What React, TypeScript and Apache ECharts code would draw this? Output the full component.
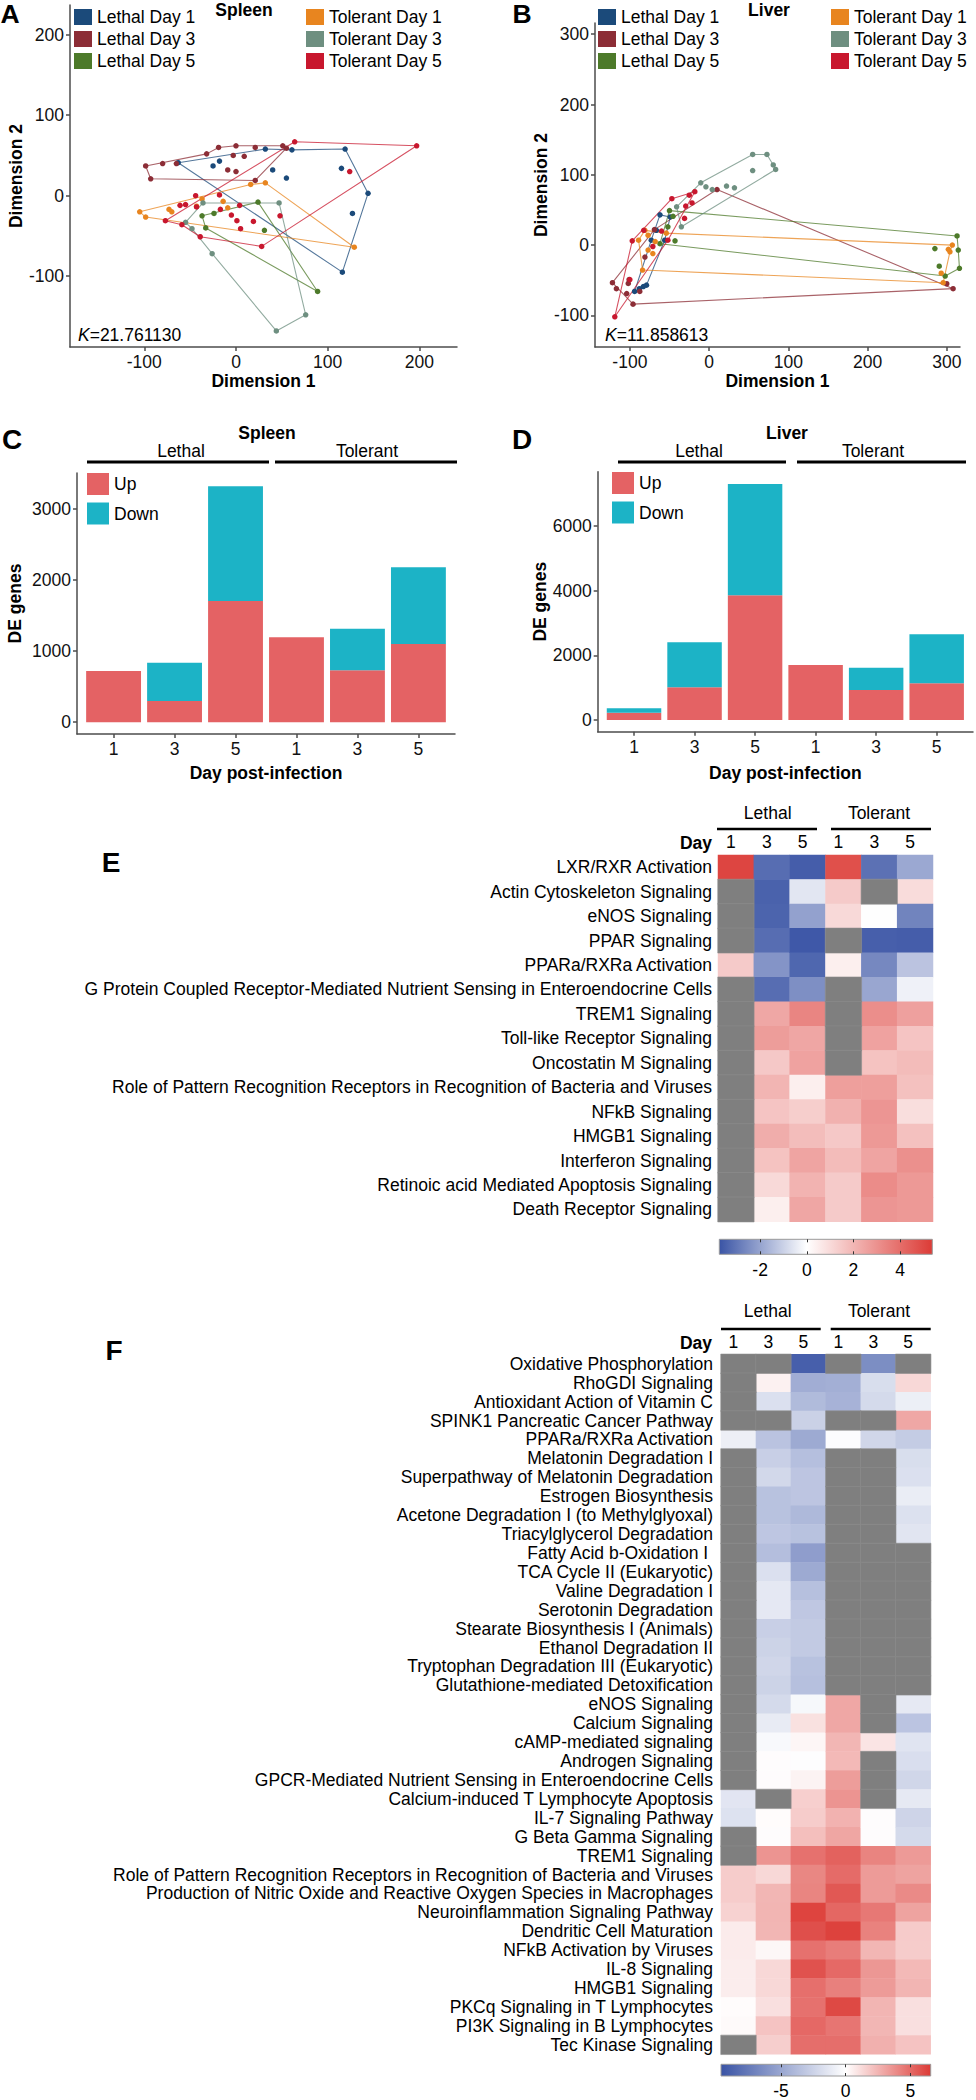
import React, { useEffect, useRef } from "react";
import * as echarts from "echarts";

const FONT = "'Liberation Sans', Arial, Helvetica, sans-serif";

// ---------- Panels A / B : MDS points ----------
const groupNames = ["Lethal Day 1", "Lethal Day 3", "Lethal Day 5", "Tolerant Day 1", "Tolerant Day 3", "Tolerant Day 5"];
const groupColors = ["#1b4a7a", "#8c2d36", "#4d7a2a", "#e8851f", "#6e8f80", "#c8172e"];

const spleenLethalDay1 = [[-63, 41], [-25, 37], [-18, 43], [32, 58], [61, 57], [119, 58], [115, 34], [40, 32], [55, 22], [144, 3], [127, -22], [116, -95]];
const spleenLethalDay3 = [[-98.5, 37], [-93, 21], [-80, 40], [-65, 40], [-32, 52], [-19, 60], [0, 62], [21, 60], [51, 62], [55, 59], [21, 19], [-3, 50], [9, 49], [-9, 32], [0, 30]];
const spleenLethalDay5 = [[-37, -25], [24, -8], [89, -119], [-33, -40], [31, -43], [-24, -22]];
const spleenTolerantDay1 = [[-105, -20], [-98.5, -26.5], [16, 14], [32, 16], [129, -64], [-37, -4], [-14, -7], [-9, -15], [-43, -13], [-73, -17], [-70, -20]];
const spleenTolerantDay3 = [[-36, -9], [47, -9], [76, -148], [44, -168], [-26, -72], [-48, -41], [-55, -33]];
const spleenTolerantDay5 = [[-77, -31], [-61, -12], [-55, -11], [-44, 0], [-43, -14], [-18, 1], [-17, -17], [-5, -24], [1, -31], [5, -41], [19, -32], [48, -25], [4, -12], [64, 67], [197, 62], [124, 30], [28, -63], [-39, -51], [-59, -36]];
const spleenHulls = [
  [0, 3, 4, 5, 9, 11],
  [0, 4, 5, 6, 8, 9, 10, 1],
  [0, 1, 2, 3],
  [0, 2, 3, 4, 1],
  [6, 0, 1, 2, 3, 4, 5],
  [0, 13, 14, 16, 17, 18],
];

const liverLethalDay1 = [[-62, 43], [-49, 40], [-56, 7], [-79, -57], [-94, -66], [-66.5, 21], [-73, 7], [-83, -59], [-88, -62]];
const liverLethalDay3 = [[-122, -53.5], [-117, -62], [-102, -54.5], [-101, -49], [-104, -69], [-96, -84], [-87.5, -66], [-81, -17], [-69, 22], [10, 79], [308, -62], [300, -55]];
const liverLethalDay5 = [[-50, 49], [-45.5, 41], [-52, 26], [-43, 6], [-62, 2], [313, 13], [314.5, -7], [316, -33], [298, -44], [285, -5], [290.5, -30]];
const liverTolerantDay1 = [[-89, 7], [-81, 21], [-77, 14], [-77, -7], [-71, -12], [-84, -35.5], [-68, 5], [307, 0], [304, -9.5], [302, -6], [293, -40], [295.5, -53.5], [-54, 17]];
const liverTolerantDay3 = [[-41, 54.5], [-10.5, 88.6], [-4, 83], [4, 79], [22, 84], [32, 81.5], [55, 129], [73, 129], [81, 114], [84, 107.6], [55, 106], [-35, 26]];
const liverTolerantDay5 = [[-119, -102], [-97, 6], [-82.5, 21], [-47, 66], [-25, 71], [-18, 76], [-21.5, 60], [-29.5, 55.5], [-31, 38], [-52, 7], [-60, 20], [-71, -2], [-100, -49]];
const liverHulls = [
  [0, 1, 2, 3, 4, 6],
  [0, 5, 10, 9, 8],
  [0, 5, 6, 7, 8, 4],
  [0, 1, 12, 7, 8, 11, 5],
  [0, 1, 6, 7, 8, 9, 11],
  [0, 1, 3, 5, 9],
];

// ---------- Panels C / D : DE genes ----------
const dayLabels = ["1", "3", "5", "1", "3", "5"];
const spleenUp = [720, 299, 1701, 1192, 729, 1098];
const spleenDown = [0, 537, 1612, 0, 584, 1080];
const liverUp = [227, 1012, 3862, 1704, 929, 1136];
const liverDown = [134, 1394, 3448, 0, 692, 1518];

// ---------- Panel E ----------
const columnKeys = ["Lethal 1", "Lethal 3", "Lethal 5", "Tolerant 1", "Tolerant 3", "Tolerant 5"];
const ePathways = [
  "LXR/RXR Activation", "Actin Cytoskeleton Signaling", "eNOS Signaling", "PPAR Signaling", "PPARa/RXRa Activation",
  "G Protein Coupled Receptor-Mediated Nutrient Sensing in Enteroendocrine Cells", "TREM1 Signaling", "Toll-like Receptor Signaling",
  "Oncostatin M Signaling", "Role of Pattern Recognition Receptors in Recognition of Bacteria and Viruses", "NFkB Signaling",
  "HMGB1 Signaling", "Interferon Signaling", "Retinoic acid Mediated Apoptosis Signaling", "Death Receptor Signaling",
];
const eLethalDay1 = [5.1, null, null, null, 1.45, null, null, null, null, null, null, null, null, null, null];
const eLethalDay3 = [-3.2, -3.45, -3.4, -3.2, -2.35, -3.2, 2.4, 2.7, 1.5, 2.05, 1.6, 2.25, 1.65, 1.05, 0.45];
const eLethalDay5 = [-3.55, -0.55, -2.05, -3.65, -3.35, -2.45, 3.35, 2.45, 2.55, 0.45, 1.35, 1.8, 2.5, 2.1, 2.45];
const eTolerantDay1 = [4.8, 1.45, 1.05, null, 0.45, null, null, null, null, 2.65, 2.15, 1.5, 1.85, 1.45, 1.45];
const eTolerantDay3 = [-3.1, null, 0, -3.5, -2.6, -1.95, 3.1, 2.55, 1.65, 2.65, 2.9, 2.8, 2.5, 3.15, 2.9];
const eTolerantDay5 = [-1.9, 0.95, -2.7, -3.55, -1.3, -0.3, 2.6, 1.6, 1.85, 1.7, 0.9, 1.7, 3.05, 2.8, 2.8];
const eScaleMin = -3.75;
const eScaleMax = 5.38;
const eScaleTicks = [-2, 0, 2, 4];

// ---------- Panel F ----------
const fPathways = [
  "Oxidative Phosphorylation", "RhoGDI Signaling", "Antioxidant Action of Vitamin C", "SPINK1 Pancreatic Cancer Pathway",
  "PPARa/RXRa Activation", "Melatonin Degradation I", "Superpathway of Melatonin Degradation", "Estrogen Biosynthesis",
  "Acetone Degradation I (to Methylglyoxal)", "Triacylglycerol Degradation", "Fatty Acid b-Oxidation I ", "TCA Cycle II (Eukaryotic)",
  "Valine Degradation I", "Serotonin Degradation", "Stearate Biosynthesis I (Animals)", "Ethanol Degradation II",
  "Tryptophan Degradation III (Eukaryotic)", "Glutathione-mediated Detoxification", "eNOS Signaling", "Calcium Signaling",
  "cAMP-mediated signaling", "Androgen Signaling", "GPCR-Mediated Nutrient Sensing in Enteroendocrine Cells",
  "Calcium-induced T Lymphocyte Apoptosis", "IL-7 Signaling Pathway", "G Beta Gamma Signaling", "TREM1 Signaling",
  "Role of Pattern Recognition Receptors in Recognition of Bacteria and Viruses",
  "Production of Nitric Oxide and Reactive Oxygen Species in Macrophages", "Neuroinflammation Signaling Pathway",
  "Dendritic Cell Maturation", "NFkB Activation by Viruses", "IL-8 Signaling", "HMGB1 Signaling",
  "PKCq Signaling in T Lymphocytes", "PI3K Signaling in B Lymphocytes", "Tec Kinase Signaling",
];
const fLethalDay1 = [null, null, null, null, -0.9, null, null, null, null, null, null, null, null, null, null, null, null, null, null, null, null, null, null, -1.45, -1.65, null, null, 1.7, 1.7, 1.5, 0.65, 0.65, 0.6, 0.6, 0.1, 0.15, null];
const fLethalDay3 = [null, 0.45, -1.75, null, -3.35, -2.7, -2.2, -3.45, -3.45, -3.2, -3.65, -1.75, -1.3, -1.3, -2.7, -2.5, -2.3, -2.5, -2.1, -1.15, -0.3, 0, 0, null, 0.1, 0, 3.6, 1.3, 2.45, 2.5, 2.45, 0.25, 1.3, 1.3, 1.05, 2.0, 1.65];
const fLethalDay5 = [-9.0, -4.6, -3.85, -2.6, -4.8, -3.6, -3.25, -3.25, -3.95, -3.45, -5.5, -4.8, -3.55, -3.15, -3.0, -3.0, -3.45, -3.55, -0.4, 1.0, 0.3, -0.1, 0.4, 1.6, 1.7, 2.15, 4.75, 4.05, 4.1, 6.25, 5.9, 4.75, 5.8, 4.8, 4.75, 5.05, 4.85];
const fTolerantDay1 = [null, -4.5, -4.3, null, -0.15, null, null, null, null, null, null, null, null, null, null, null, null, null, 2.95, 2.95, 2.45, 2.35, 3.3, 3.6, 2.6, 3.0, 5.25, 4.95, 5.6, 5.1, 6.35, 4.35, 5.0, 4.25, 6.1, 4.6, 4.85];
const fTolerantDay3 = [-6.4, -1.9, -2.1, null, -2.3, null, null, null, null, null, null, null, null, null, null, null, null, null, null, null, 0.9, null, null, null, 0, 0, 4.15, 3.35, 3.35, 4.5, 4.2, 2.45, 3.5, 3.35, 2.5, 2.45, 2.65];
const fTolerantDay5 = [null, 1.3, -0.95, 2.95, -2.9, -1.9, -1.75, -1.05, -1.7, -1.5, null, null, null, null, null, null, null, null, -1.25, -3.3, -1.55, -1.85, -2.3, -1.25, -2.4, -2.1, 3.4, 3.1, 3.95, 3.1, 1.75, 1.7, 2.35, 2.5, 1.05, 1.05, 2.0];
const fScaleMin = -9.64;
const fScaleMax = 6.57;
const fScaleTicks = [-5, 0, 5];

// ---------- styling ----------
const BLUE = "#3a54a5";
const RED = "#dc3b36";
const NA_COLOR = "#7f7f7f";
const UP_COLOR = "#e46264";
const DOWN_COLOR = "#1cb3c6";
const AXIS_COLOR = "#4d4d4d";
const FS = 17.5;

function hexRgb(h: string) {
  const n = parseInt(h.slice(1), 16);
  return [(n >> 16) & 255, (n >> 8) & 255, n & 255];
}
function mix(a: string, b: string, t: number) {
  const A = hexRgb(a), B = hexRgb(b);
  const c = A.map((v, i) => Math.round(v + (B[i] - v) * t));
  return `rgb(${c[0]},${c[1]},${c[2]})`;
}
function ramp(v: number, lo: number, hi: number) {
  if (v < 0) return mix("#ffffff", BLUE, Math.min(1, v / lo));
  return mix("#ffffff", RED, Math.min(1, v / hi));
}
function rampList(lo: number, hi: number, n: number) {
  const out: string[] = [];
  for (let i = 0; i < n; i++) out.push(ramp(lo + ((hi - lo) * i) / (n - 1), lo, hi));
  return out;
}

function valueAxis(gridIndex: number, min: number, max: number, ticks: number[], extra: any = {}) {
  const ls = { color: AXIS_COLOR, width: 1.5 };
  return {
    type: "value",
    gridIndex,
    min,
    max,
    axisLine: { show: true, onZero: false, lineStyle: ls },
    axisTick: { show: true, length: 4, lineStyle: ls, customValues: ticks },
    axisLabel: { customValues: ticks, fontSize: FS, color: "#111", fontFamily: FONT, margin: 6, formatter: (v: number) => String(v) },
    splitLine: { show: false },
    nameLocation: "middle",
    nameTextStyle: { fontWeight: "bold", fontSize: FS, color: "#000", fontFamily: FONT },
    ...extra,
  };
}

function mdsSeries(points: number[][][], hulls: number[][], axisIndex: number) {
  const out: any[] = [];
  points.forEach((pts, g) => {
    out.push({
      type: "scatter", name: groupNames[g], xAxisIndex: axisIndex, yAxisIndex: axisIndex,
      data: pts, symbolSize: 5.5, itemStyle: { color: groupColors[g], opacity: 1 }, z: 4, silent: true,
    });
  });
  points.forEach((pts, g) => {
    const ring = hulls[g].map((i) => pts[i]);
    ring.push(pts[hulls[g][0]]);
    out.push({
      type: "line", name: groupNames[g], xAxisIndex: axisIndex, yAxisIndex: axisIndex, data: ring,
      symbol: "none", showSymbol: false, lineStyle: { color: groupColors[g], width: 1.1, opacity: 0.75 },
      itemStyle: { color: groupColors[g] }, z: 3, silent: true,
    });
  });
  return out;
}

function barSeries(name: string, color: string, axisIndex: number, base: number[], height: number[]) {
  return {
    type: "custom", name, xAxisIndex: axisIndex, yAxisIndex: axisIndex, silent: true,
    itemStyle: { color },
    data: height.map((h, i) => [i + 1, base[i], h]),
    encode: { x: 0, y: 1 },
    renderItem: (params: any, api: any) => {
      const x = api.value(0);
      const lo = api.value(1);
      const hi = lo + api.value(2);
      const w = api.size([0.9, 0])[0];
      const p0 = api.coord([x, hi]);
      const p1 = api.coord([x, lo]);
      return { type: "rect", shape: { x: p0[0] - w / 2, y: p0[1], width: w, height: p1[1] - p0[1] }, style: { fill: color } };
    },
  };
}

function heatData(cols: (number | null)[][]) {
  const vals: any[] = [];
  const na: any[] = [];
  cols.forEach((col, j) => col.forEach((v, i) => {
    if (v === null) na.push([j, i, 0]);
    else vals.push([j, i, v]);
  }));
  return { vals, na };
}

function colorbarSeries(xIdx: number, yIdx: number, lo: number, hi: number) {
  const f0 = -lo / (hi - lo);
  return {
    type: "custom", xAxisIndex: xIdx, yAxisIndex: yIdx, silent: true, z: 1,
    data: [[lo, hi]],
    encode: { x: [0, 1] },
    renderItem: (params: any, api: any) => {
      const p0 = api.coord([api.value(0), 1]);
      const p1 = api.coord([api.value(1), 0]);
      return {
        type: "rect",
        shape: { x: p0[0], y: p0[1], width: p1[0] - p0[0], height: p1[1] - p0[1] },
        style: {
          fill: new echarts.graphic.LinearGradient(0, 0, 1, 0, [
            { offset: 0, color: BLUE }, { offset: f0, color: "#ffffff" }, { offset: 1, color: RED },
          ]),
          stroke: "#9a9a9a", lineWidth: 1,
        },
      };
    },
  };
}

function heatAxes(gridIndex: number, rows: string[], labelMargin: number, dayMargin: number) {
  const x = {
    type: "category", gridIndex, data: columnKeys, position: "top",
    axisLine: { show: false }, axisTick: { show: false }, splitLine: { show: false },
    axisLabel: {
      interval: 0, fontSize: FS, color: "#000", fontFamily: FONT, margin: dayMargin, padding: [0, 10, 0, 0],
      formatter: (v: string, i: number) => dayLabels[i],
    },
  };
  const y = {
    type: "category", gridIndex, data: rows, inverse: true,
    axisLine: { show: false }, axisTick: { show: false }, splitLine: { show: false },
    axisLabel: { interval: 0, fontSize: FS, color: "#000", fontFamily: FONT, margin: labelMargin },
  };
  return { x, y };
}

function cbarAxes(gridIndex: number, lo: number, hi: number, ticks: number[], margin: number) {
  const tl = { color: "#333", width: 1 };
  const bottom = {
    type: "value", gridIndex, min: lo, max: hi, position: "bottom", z: 10,
    axisLine: { show: false }, splitLine: { show: false },
    axisTick: { show: true, inside: true, length: 3, lineStyle: tl, customValues: ticks },
    axisLabel: { customValues: ticks, fontSize: FS, color: "#000", fontFamily: FONT, margin, formatter: (v: number) => String(v) },
  };
  const top = {
    type: "value", gridIndex, min: lo, max: hi, position: "top", z: 10,
    axisLine: { show: false }, splitLine: { show: false },
    axisTick: { show: true, inside: true, length: 3, lineStyle: tl, customValues: ticks },
    axisLabel: { show: false },
  };
  const y = { type: "value", gridIndex, min: 0, max: 1, show: false };
  return { bottom, top, y };
}

function txt(x: number, y: number, text: string, opts: any = {}) {
  return {
    type: "text", x, y, silent: true,
    style: {
      text, fill: "#000", fontSize: opts.size || FS, fontFamily: FONT, fontWeight: opts.weight || "normal",
      textAlign: opts.align || "center", textVerticalAlign: "middle", rich: opts.rich,
    },
  };
}
function hline(x1: number, x2: number, y: number, w: number) {
  return { type: "line", silent: true, shape: { x1, y1: y, x2, y2: y }, style: { stroke: "#000", lineWidth: w } };
}

function buildOption() {
  const eHeat = heatData([eLethalDay1, eLethalDay3, eLethalDay5, eTolerantDay1, eTolerantDay3, eTolerantDay5]);
  const fHeat = heatData([fLethalDay1, fLethalDay3, fLethalDay5, fTolerantDay1, fTolerantDay3, fTolerantDay5]);
  const eAx = heatAxes(4, ePathways, 6, 4);
  const fAx = heatAxes(6, fPathways, 8, 3);
  const eCb = cbarAxes(5, eScaleMin, eScaleMax, eScaleTicks, 7);
  const fCb = cbarAxes(7, fScaleMin, fScaleMax, fScaleTicks, 6);
  const barX = (g: number, gap: number) => valueAxis(g, 0.4, 6.6, [1, 2, 3, 4, 5, 6], {
    name: "Day post-infection", nameGap: gap,
    axisLabel: { customValues: [1, 2, 3, 4, 5, 6], fontSize: FS, color: "#111", fontFamily: FONT, margin: 6, formatter: (v: number) => dayLabels[Math.round(v) - 1] },
  });

  const xAxis = [
    valueAxis(0, -181, 241, [-100, 0, 100, 200], { name: "Dimension 1", nameGap: 22 }),
    valueAxis(1, -144, 316.7, [-100, 0, 100, 200, 300], { name: "Dimension 1", nameGap: 22 }),
    barX(2, 30),
    barX(3, 32),
    eAx.x,
    eCb.bottom,
    eCb.top,
    fAx.x,
    fCb.bottom,
    fCb.top,
  ];
  const yAxis = [
    valueAxis(0, -188, 237, [-100, 0, 100, 200], { name: "Dimension 2", nameGap: 41 }),
    valueAxis(1, -145, 316, [-100, 0, 100, 200, 300], { name: "Dimension 2", nameGap: 41 }),
    valueAxis(2, -165, 3500, [0, 1000, 2000, 3000], { name: "DE genes", nameGap: 53 }),
    valueAxis(3, -362, 7687, [0, 2000, 4000, 6000], { name: "DE genes", nameGap: 45 }),
    eAx.y,
    eCb.y,
    fAx.y,
    fCb.y,
  ];

  const series: any[] = [];
  series.push(...mdsSeries([spleenLethalDay1, spleenLethalDay3, spleenLethalDay5, spleenTolerantDay1, spleenTolerantDay3, spleenTolerantDay5], spleenHulls, 0));
  series.push(...mdsSeries([liverLethalDay1, liverLethalDay3, liverLethalDay5, liverTolerantDay1, liverTolerantDay3, liverTolerantDay5], liverHulls, 1));
  series.push(barSeries("Up", UP_COLOR, 2, [0, 0, 0, 0, 0, 0], spleenUp));
  series.push(barSeries("Down", DOWN_COLOR, 2, spleenUp, spleenDown));
  series.push(barSeries("Up", UP_COLOR, 3, [0, 0, 0, 0, 0, 0], liverUp));
  series.push(barSeries("Down", DOWN_COLOR, 3, liverUp, liverDown));
  const eIdx = series.length;
  series.push({ type: "heatmap", xAxisIndex: 4, yAxisIndex: 4, data: eHeat.vals, silent: true, itemStyle: { borderWidth: 0 }, emphasis: { disabled: true } });
  const eNaIdx = series.length;
  series.push({ type: "heatmap", xAxisIndex: 4, yAxisIndex: 4, data: eHeat.na, silent: true, itemStyle: { borderColor: "#8d8d8d", borderWidth: 0.6 }, emphasis: { disabled: true } });
  series.push(colorbarSeries(5, 5, eScaleMin, eScaleMax));
  const fIdx = series.length;
  series.push({ type: "heatmap", xAxisIndex: 7, yAxisIndex: 6, data: fHeat.vals, silent: true, itemStyle: { borderWidth: 0 }, emphasis: { disabled: true } });
  const fNaIdx = series.length;
  series.push({ type: "heatmap", xAxisIndex: 7, yAxisIndex: 6, data: fHeat.na, silent: true, itemStyle: { borderColor: "#8d8d8d", borderWidth: 0.6 }, emphasis: { disabled: true } });
  series.push(colorbarSeries(8, 7, fScaleMin, fScaleMax));

  const legendBase = (left: number, top: number, data: string[], w: number, h: number, gap: number) => ({
    left, top, data, orient: "vertical", icon: "rect", itemWidth: w, itemHeight: h, itemGap: gap, padding: 0,
    selectedMode: false, textStyle: { fontSize: FS, color: "#000", fontFamily: FONT },
  });

  const kRich = { i: { fontStyle: "italic", fontSize: FS, fontFamily: FONT, fill: "#000" } };

  const graphic = [
    txt(10, 13.5, "A", { size: 26.5, weight: "bold" }),
    txt(522, 13.5, "B", { size: 26.5, weight: "bold" }),
    txt(12, 439, "C", { size: 28, weight: "bold" }),
    txt(522, 439, "D", { size: 28, weight: "bold" }),
    txt(111, 862, "E", { size: 28, weight: "bold" }),
    txt(114, 1350, "F", { size: 28, weight: "bold" }),
    txt(244, 10, "Spleen", { weight: "bold" }),
    txt(769, 10, "Liver", { weight: "bold" }),
    txt(78, 335, "{i|K}=21.761130", { align: "left", rich: kRich }),
    txt(605, 335, "{i|K}=11.858613", { align: "left", rich: kRich }),
    txt(267, 433, "Spleen", { weight: "bold" }),
    txt(181, 451, "Lethal"),
    txt(367, 451, "Tolerant"),
    hline(87, 269, 462, 3),
    hline(275, 457, 462, 3),
    txt(787, 433, "Liver", { weight: "bold" }),
    txt(699, 451, "Lethal"),
    txt(873, 451, "Tolerant"),
    hline(618, 786, 462, 3),
    hline(797, 966, 462, 3),
    txt(767.7, 812.7, "Lethal"),
    txt(879, 812.7, "Tolerant"),
    hline(717, 817, 829, 2.5),
    hline(831, 931, 829, 2.5),
    txt(712, 842.7, "Day", { weight: "bold", align: "right" }),
    txt(767.7, 1310.7, "Lethal"),
    txt(879, 1310.7, "Tolerant"),
    hline(721, 820.7, 1329, 2.5),
    hline(830.7, 930.7, 1329, 2.5),
    txt(712, 1342.7, "Day", { weight: "bold", align: "right" }),
  ];

  return {
    animation: false,
    backgroundColor: "#ffffff",
    textStyle: { fontFamily: FONT },
    grid: [
      { left: 70, top: 5, width: 387, height: 342 },
      { left: 595, top: 23, width: 365, height: 324 },
      { left: 77, top: 473, width: 378, height: 261 },
      { left: 597.7, top: 471.7, width: 375.3, height: 260 },
      { left: 718, top: 855, width: 215, height: 366.7 },
      { left: 719.3, top: 1239.3, width: 213, height: 15 },
      { left: 721, top: 1354.3, width: 209.7, height: 700 },
      { left: 721, top: 2064.3, width: 209.7, height: 14 },
    ],
    xAxis,
    yAxis,
    visualMap: [
      { type: "continuous", show: false, seriesIndex: eIdx, dimension: 2, min: eScaleMin, max: eScaleMax, inRange: { color: rampList(eScaleMin, eScaleMax, 81) } },
      { type: "continuous", show: false, seriesIndex: fIdx, dimension: 2, min: fScaleMin, max: fScaleMax, inRange: { color: rampList(fScaleMin, fScaleMax, 81) } },
      { type: "continuous", show: false, seriesIndex: [eNaIdx, fNaIdx], dimension: 2, min: -1, max: 1, inRange: { color: [NA_COLOR, NA_COLOR] } },
    ],
    legend: [
      legendBase(74, 8, groupNames.slice(0, 3), 18, 16, 4),
      legendBase(306, 8, groupNames.slice(3), 18, 16, 4),
      legendBase(598, 8, groupNames.slice(0, 3), 18, 16, 4),
      legendBase(831, 8, groupNames.slice(3), 18, 16, 4),
      legendBase(87, 473, ["Up", "Down"], 22, 22, 7.5),
      legendBase(612, 472, ["Up", "Down"], 22, 22, 7.5),
    ],
    graphic,
    series,
  };
}

export default function App() {
  const ref = useRef<HTMLDivElement>(null);
  useEffect(() => {
    if (!ref.current) return;
    const chart = echarts.init(ref.current, null, { renderer: "svg" });
    chart.setOption(buildOption() as any);
    return () => chart.dispose();
  }, []);
  return <div ref={ref} style={{ position: "absolute", left: 0, top: 0, width: 976, height: 2100, background: "#fff" }} />;
}
